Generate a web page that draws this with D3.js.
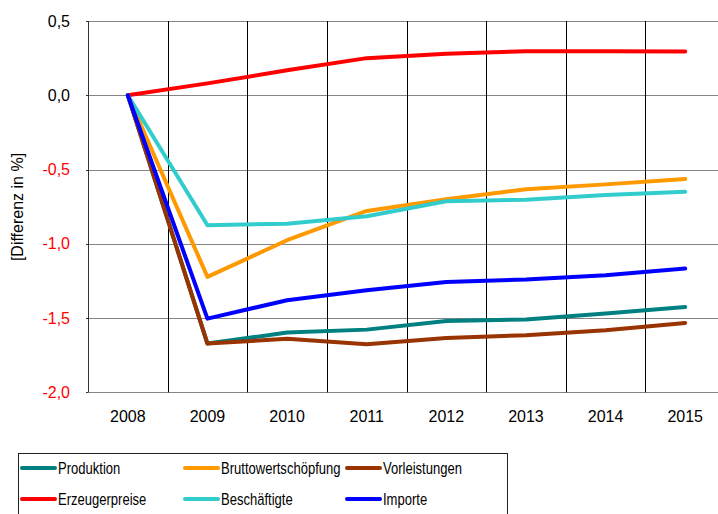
<!DOCTYPE html>
<html><head><meta charset="utf-8">
<script src="https://cdn.jsdelivr.net/npm/d3@7/dist/d3.min.js"></script>
<style>
html,body{margin:0;padding:0;background:#fff;overflow:hidden}
svg{display:block}
</style></head>
<body>
<svg id="c" width="718" height="514"></svg>
<script>
const years = ["2008","2009","2010","2011","2012","2013","2014","2015"];
const yTicks = [0.5, 0.0, -0.5, -1.0, -1.5, -2.0];
const yTickLabels = ["0,5","0,0","-0,5","-1,0","-1,5","-2,0"];
const produktion = [0, -1.672, -1.598, -1.578, -1.52, -1.51, -1.47, -1.426];
const bruttowertschoepfung = [0, -1.223, -0.976, -0.779, -0.70, -0.633, -0.60, -0.564];
const vorleistungen = [0, -1.672, -1.64, -1.677, -1.634, -1.616, -1.582, -1.533];
const erzeugerpreise = [0, 0.08, 0.168, 0.25, 0.28, 0.296, 0.296, 0.294];
const beschaeftigte = [0, -0.875, -0.865, -0.815, -0.714, -0.703, -0.671, -0.649];
const importe = [0, -1.504, -1.38, -1.313, -1.257, -1.241, -1.212, -1.167];
const seriesNames = ["Produktion","Bruttowertschöpfung","Vorleistungen","Erzeugerpreise","Beschäftigte","Importe"];
const seriesColors = ["#008080","#FF9900","#993300","#FF0000","#33CCCC","#0000FF"];
const seriesValues = [produktion, bruttowertschoepfung, vorleistungen, erzeugerpreise, beschaeftigte, importe];

const svg = d3.select("#c");
const L = 88, R = 725, T = 21, B = 392.3;
const x = d3.scaleBand().domain(years).range([L, R]).paddingInner(0).paddingOuter(0);
const y = d3.scaleLinear().domain([-2, 0.5]).range([B, T]);
const cx = d => x(d) + x.bandwidth()/2;

// horizontal gridlines
svg.append("g").selectAll("line").data(yTicks).join("line")
  .attr("x1", L).attr("x2", R)
  .attr("y1", d => Math.round(y(d))+0.5).attr("y2", d => Math.round(y(d))+0.5)
  .attr("stroke", "#858585").attr("stroke-width", 1);

// vertical gridlines at category boundaries
svg.append("g").selectAll("line").data(years.slice(1)).join("line")
  .attr("x1", d => Math.round(x(d))+0.5).attr("x2", d => Math.round(x(d))+0.5)
  .attr("y1", T).attr("y2", B)
  .attr("stroke", "#000").attr("stroke-width", 1);

// left axis line
svg.append("line").attr("x1", L+0.5).attr("x2", L+0.5).attr("y1", T).attr("y2", B)
  .attr("stroke", "#333").attr("stroke-width", 1);
// small tick marks
svg.append("g").selectAll("line").data(yTicks).join("line")
  .attr("x1", L-2).attr("x2", L)
  .attr("y1", d => Math.round(y(d))+0.5).attr("y2", d => Math.round(y(d))+0.5)
  .attr("stroke", "#333");

// y tick labels
svg.append("g").selectAll("text").data(yTicks).join("text")
  .attr("x", 70).attr("y", d => y(d)).attr("dy", "0.35em")
  .attr("text-anchor", "end")
  .attr("font-family", "Liberation Sans, Arial, sans-serif").attr("font-size", 16)
  .attr("fill", (d) => d < 0 ? "#FF0000" : "#000")
  .text((d, i) => yTickLabels[i]);

// x labels
svg.append("g").selectAll("text").data(years).join("text")
  .attr("x", d => cx(d)).attr("y", 422)
  .attr("text-anchor", "middle")
  .attr("font-family", "Liberation Sans, Arial, sans-serif").attr("font-size", 16)
  .attr("fill", "#000").text(d => d);

// y title
svg.append("text").attr("transform", "translate(23,207) rotate(-90)")
  .attr("text-anchor", "middle")
  .attr("font-family", "Liberation Sans, Arial, sans-serif").attr("font-size", 16)
  .attr("fill", "#000").text("[Differenz in %]");

// lines
const line = d3.line().x((d, i) => cx(years[i])).y(d => y(d));
svg.append("g").selectAll("path").data(seriesValues).join("path")
  .attr("d", d => line(d)).attr("fill", "none")
  .attr("stroke", (d, i) => seriesColors[i]).attr("stroke-width", 4)
  .attr("stroke-linejoin", "round").attr("stroke-linecap", "round");

// legend
svg.append("rect").attr("x", 18.5).attr("y", 453.5).attr("width", 489).attr("height", 80)
  .attr("fill", "#fff").attr("stroke", "#222").attr("stroke-width", 1);
const colX = [22, 185, 347];
const rowY = [468, 499];
const lg = svg.append("g").selectAll("g").data(seriesNames).join("g")
  .attr("transform", (d, i) => `translate(${colX[i%3]},${rowY[Math.floor(i/3)]})`);
lg.append("line").attr("x1", 0).attr("x2", 33).attr("y1", 0).attr("y2", 0)
  .attr("stroke", (d, i) => seriesColors[i]).attr("stroke-width", 4).attr("stroke-linecap", "round");
lg.append("text").attr("transform", "translate(36,0) scale(0.79,1)").attr("dy", "0.35em")
  .attr("font-family", "Liberation Sans, Arial, sans-serif").attr("font-size", 16.5)
  .attr("fill", "#000").text(d => d);
</script>
</body></html>
